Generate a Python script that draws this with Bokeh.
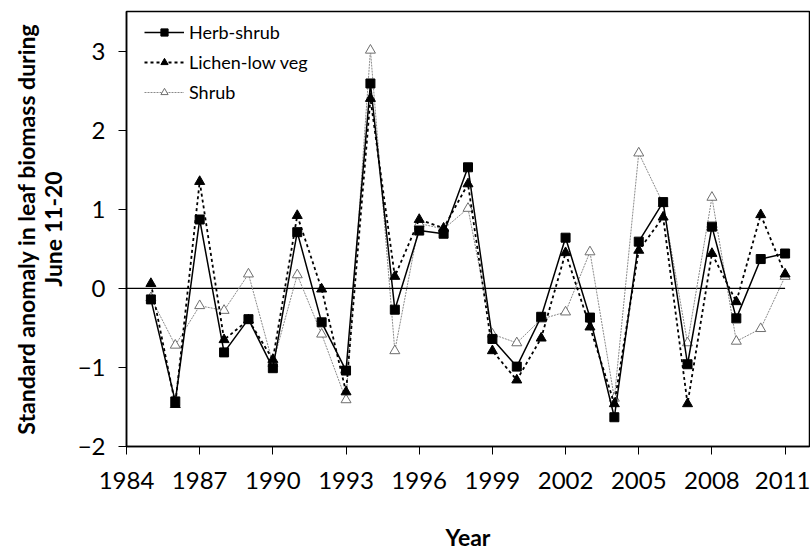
from bokeh.plotting import figure
from bokeh.models import Legend, LegendItem, Range1d, FixedTicker
from bokeh.embed import file_html
from bokeh.resources import INLINE

years = list(range(1985, 2012))
herb_shrub = [-0.14, -1.43, 0.87, -0.81, -0.39, -1.01, 0.71, -0.43, -1.04, 2.59,
              -0.27, 0.73, 0.69, 1.53, -0.64, -0.99, -0.36, 0.64, -0.37, -1.63,
              0.59, 1.09, -0.96, 0.78, -0.38, 0.37, 0.44]
lichen_low_veg = [0.06, -1.47, 1.35, -0.65, -0.40, -0.90, 0.92, -0.01, -1.31, 2.40,
                  0.15, 0.87, 0.76, 1.32, -0.79, -1.16, -0.63, 0.45, -0.49, -1.46,
                  0.48, 0.90, -1.46, 0.44, -0.17, 0.93, 0.18]
shrub = [-0.12, -0.72, -0.22, -0.28, 0.18, -0.95, 0.17, -0.58, -1.41, 3.01,
         -0.79, 0.82, 0.75, 1.01, -0.58, -0.69, -0.39, -0.30, 0.46, -1.39,
         1.71, 1.07, -0.69, 1.15, -0.67, -0.51, 0.15]
zero_x = [1984, 2011]
zero_y = [0, 0]
x_ticks = list(range(1984, 2012, 3))
y_ticks = [-2, -1, 0, 1, 2, 3]

FONT = "Lato"

p = figure(width=810, height=553, output_backend="svg", toolbar_location=None,
           x_range=Range1d(1984, 2012), y_range=Range1d(-2, 3.5),
           min_border_left=126, min_border_right=1, min_border_top=11, min_border_bottom=104)
p.grid.visible = False
p.outline_line_color = "black"
p.outline_line_width = 1.5
p.background_fill_color = "white"
p.border_fill_color = "white"

for ax in (p.xaxis[0], p.yaxis[0]):
    ax.axis_line_color = "black"
    ax.axis_line_width = 1.5
    ax.major_tick_line_color = "black"
    ax.major_tick_line_width = 1
    ax.major_tick_out = 8
    ax.major_tick_in = 0
    ax.minor_tick_line_color = None
    ax.major_label_text_font = FONT
    ax.major_label_text_font_size = "24px"
    ax.major_label_text_color = "black"
    ax.axis_label_text_font = FONT
    ax.axis_label_text_font_style = "bold"
    ax.axis_label_text_font_size = "23px"
    ax.axis_label_text_color = "black"

p.xaxis.ticker = FixedTicker(ticks=x_ticks)
p.yaxis.ticker = FixedTicker(ticks=y_ticks)
p.xaxis.major_label_standoff = 17
p.yaxis.major_label_standoff = 13
p.xaxis.axis_label = "Year"
p.xaxis.axis_label_standoff = 31
p.yaxis.axis_label = "Standard anomaly in leaf biomass during\nJune 11-20"
p.yaxis.axis_label_text_line_height = 0.95
p.yaxis.axis_label_standoff = 8

p.line(zero_x, zero_y, line_color="black", line_width=1.2)

# Shrub
l3 = p.line(years, shrub, line_color="#8a8a8a", line_width=1, line_dash="2 1")
m3 = p.scatter(years, shrub, marker="triangle", size=10, fill_color="white",
               line_color="#6e6e6e", line_width=1)
# Lichen-low veg
l2 = p.line(years, lichen_low_veg, line_color="black", line_width=1.8, line_dash="3 3")
m2 = p.scatter(years, lichen_low_veg, marker="triangle", size=10, fill_color="black",
               line_color="black")
# Herb-shrub
l1 = p.line(years, herb_shrub, line_color="black", line_width=1.5)
m1 = p.scatter(years, herb_shrub, marker="square", size=9, fill_color="black",
               line_color="black")

legend = Legend(items=[
    LegendItem(label="Herb-shrub", renderers=[l1, m1]),
    LegendItem(label="Lichen-low veg", renderers=[l2, m2]),
    LegendItem(label="Shrub", renderers=[l3, m3]),
], location=(18, 343))
legend.border_line_color = None
legend.background_fill_alpha = 0
legend.label_text_font = FONT
legend.label_text_font_size = "18px"
legend.label_text_color = "black"
legend.glyph_width = 40
legend.glyph_height = 18
legend.label_height = 18
legend.spacing = 8
legend.padding = 12
legend.margin = 0
legend.label_standoff = 5
p.add_layout(legend)

open("out.html", "w").write(file_html(p, INLINE))
